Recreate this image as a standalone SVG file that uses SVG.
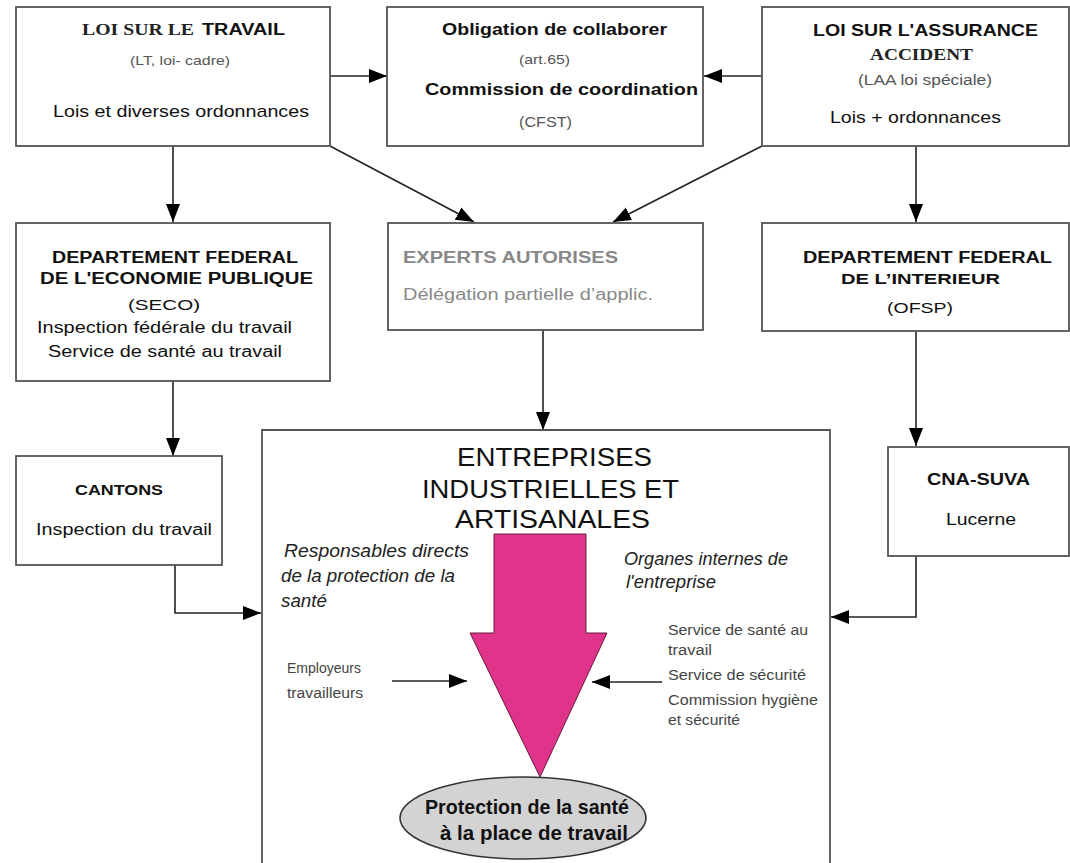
<svg xmlns="http://www.w3.org/2000/svg" width="1070" height="863" viewBox="0 0 1070 863">
<defs>
<marker id="ah" markerUnits="userSpaceOnUse" markerWidth="20" markerHeight="16" refX="18" refY="7" orient="auto">
<path d="M0,0 L18,7 L0,14 z" fill="#000"/>
</marker>
<style>
.box{fill:#fff;stroke:#555;stroke-width:1.8}
.con{fill:none;stroke:#222;stroke-width:1.6;marker-end:url(#ah)}
text{font-family:"Liberation Sans",Arial,sans-serif;fill:#111}
.b{font-weight:bold}
.s{font-family:"Liberation Serif","Times New Roman",serif;font-weight:bold;fill:#222}
.g{fill:#555}
.lg{fill:#888}
.i{font-style:italic;fill:#222}
.sm{font-size:14px;fill:#444}
</style>
</defs>
<rect width="1070" height="863" fill="#fff"/>

<g id="connectors">
<path class="con" d="M330,76 H387"/>
<path class="con" d="M762,76 H704"/>
<path class="con" d="M173,146 V222"/>
<path class="con" d="M330,146 L474,222"/>
<path class="con" d="M762,146 L613,222"/>
<path class="con" d="M916,146 V222"/>
<path class="con" d="M173,381 V456"/>
<path class="con" d="M543,330 V430"/>
<path class="con" d="M916,331 V446"/>
<path class="con" d="M175,565 V613 H261"/>
<path class="con" d="M916,556 V617 H831"/>
<path class="con" d="M392,681 H467"/>
<path class="con" d="M662,682 H592"/>
</g>

<g id="loi-travail">
<rect class="box" x="16" y="7" width="314" height="139"/>
<text class="s" x="82" y="35" font-size="16" textLength="112" lengthAdjust="spacingAndGlyphs">LOI SUR LE</text>
<text class="b" x="202" y="35" font-size="16" textLength="83" lengthAdjust="spacingAndGlyphs">TRAVAIL</text>
<text class="g" x="130" y="65" font-size="13" textLength="100" lengthAdjust="spacingAndGlyphs">(LT, loi- cadre)</text>
<text x="53" y="117" font-size="17" textLength="256" lengthAdjust="spacingAndGlyphs">Lois et diverses ordonnances</text>
</g>

<g id="obligation">
<rect class="box" x="387" y="7" width="316" height="139"/>
<text class="b" x="442" y="35" font-size="17" textLength="225" lengthAdjust="spacingAndGlyphs">Obligation de collaborer</text>
<text class="g" x="519" y="64" font-size="13" textLength="51" lengthAdjust="spacingAndGlyphs">(art.65)</text>
<text class="b" x="425" y="95" font-size="17" textLength="273" lengthAdjust="spacingAndGlyphs">Commission de coordination</text>
<text class="g" x="519" y="127" font-size="14" textLength="53" lengthAdjust="spacingAndGlyphs">(CFST)</text>
</g>

<g id="loi-assurance">
<rect class="box" x="762" y="7" width="307" height="139"/>
<text class="b" x="813" y="36" font-size="17" textLength="225" lengthAdjust="spacingAndGlyphs">LOI SUR L'ASSURANCE</text>
<text class="s" x="870" y="60" font-size="16" textLength="103" lengthAdjust="spacingAndGlyphs">ACCIDENT</text>
<text class="g" x="858" y="85" font-size="14" textLength="134" lengthAdjust="spacingAndGlyphs">(LAA  loi  spéciale)</text>
<text x="830" y="123" font-size="17" textLength="171" lengthAdjust="spacingAndGlyphs">Lois + ordonnances</text>
</g>

<g id="dept-economie">
<rect class="box" x="16" y="223" width="314" height="158"/>
<text class="b" x="52" y="263" font-size="16" textLength="246" lengthAdjust="spacingAndGlyphs">DEPARTEMENT FEDERAL</text>
<text class="b" x="40" y="284" font-size="16" textLength="273" lengthAdjust="spacingAndGlyphs">DE L'ECONOMIE  PUBLIQUE</text>
<text x="128" y="310" font-size="15" textLength="72" lengthAdjust="spacingAndGlyphs">(SECO)</text>
<text x="37" y="333" font-size="16" textLength="255" lengthAdjust="spacingAndGlyphs">Inspection fédérale du travail</text>
<text x="48" y="357" font-size="16" textLength="234" lengthAdjust="spacingAndGlyphs">Service de santé au travail</text>
</g>

<g id="experts">
<rect class="box" x="388" y="223" width="315" height="107"/>
<text class="b lg" x="403" y="263" font-size="16" textLength="215" lengthAdjust="spacingAndGlyphs">EXPERTS AUTORISES</text>
<text class="lg" x="403" y="300" font-size="16" textLength="250" lengthAdjust="spacingAndGlyphs">Délégation partielle d’applic.</text>
</g>

<g id="dept-interieur">
<rect class="box" x="762" y="223" width="307" height="108"/>
<text class="b" x="803" y="263" font-size="16" textLength="249" lengthAdjust="spacingAndGlyphs">DEPARTEMENT FEDERAL</text>
<text class="b" x="841" y="284" font-size="15" textLength="159" lengthAdjust="spacingAndGlyphs">DE L’INTERIEUR</text>
<text x="887" y="313" font-size="15" textLength="66" lengthAdjust="spacingAndGlyphs">(OFSP)</text>
</g>

<g id="cantons">
<rect class="box" x="16" y="456" width="206" height="109"/>
<text class="b" x="75" y="495" font-size="15" textLength="88" lengthAdjust="spacingAndGlyphs">CANTONS</text>
<text x="36" y="535" font-size="16" textLength="176" lengthAdjust="spacingAndGlyphs">Inspection du travail</text>
</g>

<g id="cna-suva">
<rect class="box" x="888" y="447" width="181" height="109"/>
<text class="b" x="927" y="485" font-size="16" textLength="103" lengthAdjust="spacingAndGlyphs">CNA-SUVA</text>
<text x="946" y="525" font-size="16" textLength="70" lengthAdjust="spacingAndGlyphs">Lucerne</text>
</g>

<g id="entreprises">
<path d="M262,863 V430 H830 V863" fill="none" stroke="#555" stroke-width="1.8"/>
<text x="457" y="466" font-size="25" textLength="195" lengthAdjust="spacingAndGlyphs">ENTREPRISES</text>
<text x="422" y="498" font-size="25" textLength="257" lengthAdjust="spacingAndGlyphs">INDUSTRIELLES ET</text>
<text x="455" y="528" font-size="25" textLength="195" lengthAdjust="spacingAndGlyphs">ARTISANALES</text>
<text class="i" x="284" y="557" font-size="17.5" textLength="185" lengthAdjust="spacingAndGlyphs">Responsables directs</text>
<text class="i" x="281" y="582" font-size="17.5" textLength="174" lengthAdjust="spacingAndGlyphs">de la protection de la</text>
<text class="i" x="281" y="607" font-size="17.5" textLength="46" lengthAdjust="spacingAndGlyphs">santé</text>
<text class="i" x="624" y="565" font-size="17.5" textLength="164" lengthAdjust="spacingAndGlyphs">Organes internes de</text>
<text class="i" x="626" y="588" font-size="17.5" textLength="90" lengthAdjust="spacingAndGlyphs">l'entreprise</text>
<text class="sm" x="287" y="673" textLength="74" lengthAdjust="spacingAndGlyphs">Employeurs</text>
<text class="sm" x="287" y="698" textLength="76" lengthAdjust="spacingAndGlyphs">travailleurs</text>
<text class="sm" x="668" y="635" textLength="140" lengthAdjust="spacingAndGlyphs">Service de santé au</text>
<text class="sm" x="668" y="655" textLength="44" lengthAdjust="spacingAndGlyphs">travail</text>
<text class="sm" x="668" y="680" textLength="138" lengthAdjust="spacingAndGlyphs">Service de  sécurité</text>
<text class="sm" x="668" y="705" textLength="150" lengthAdjust="spacingAndGlyphs">Commission hygiène</text>
<text class="sm" x="668" y="725" textLength="72" lengthAdjust="spacingAndGlyphs">et sécurité</text>
</g>

<g id="fleche">
<polygon points="494,534 586,534 586,633 607,633 540,777 470,633 494,633" fill="#e0338a" stroke="#6a1a40" stroke-width="1"/>
</g>

<g id="protection">
<ellipse cx="523" cy="818" rx="123" ry="41" fill="#d3d3d3" stroke="#333" stroke-width="1.6"/>
<text class="b" x="425" y="814" font-size="21" textLength="204" lengthAdjust="spacingAndGlyphs">Protection de la santé</text>
<text class="b" x="440" y="840" font-size="21" textLength="188" lengthAdjust="spacingAndGlyphs">à la place de travail</text>
</g>
</svg>
